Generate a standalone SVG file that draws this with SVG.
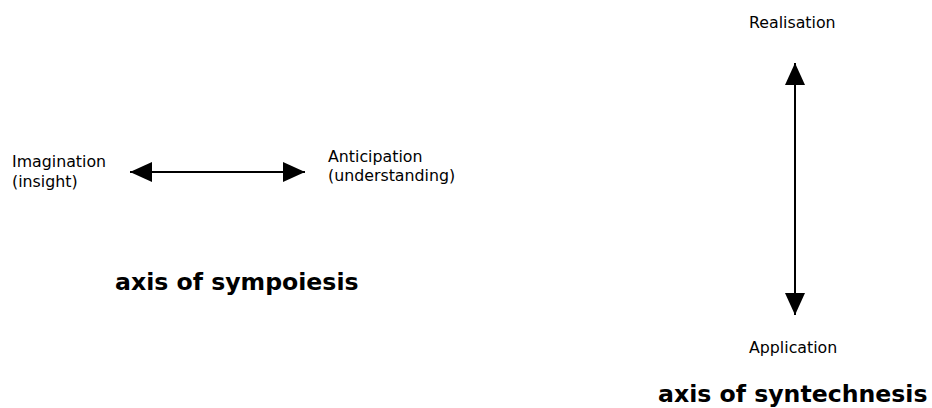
<svg xmlns="http://www.w3.org/2000/svg" width="932" height="408" viewBox="0 0 932 408">
<style>
.lbl{font-family:"DejaVu Sans",Verdana,sans-serif;font-size:15.8px;fill:#000}
.ttl{font-family:"DejaVu Sans",Verdana,sans-serif;font-size:23.6px;font-weight:bold;fill:#000}
.ln{stroke:#000;stroke-width:2;fill:none}
</style>
<defs>
<marker id="ah" viewBox="0 0 22 20" refX="22" refY="10" markerWidth="22" markerHeight="20" markerUnits="userSpaceOnUse" orient="auto-start-reverse">
<path d="M0,0 L22,10 L0,20 Z" fill="#000"/>
</marker>
</defs>
<rect width="932" height="408" fill="#fff"/>
<g id="imagination"><text class="lbl" x="12" y="167">Imagination</text><text class="lbl" x="12" y="187">(insight)</text></g>
<g id="anticipation"><text class="lbl" x="328" y="162">Anticipation</text><text class="lbl" x="328" y="181">(understanding)</text></g>
<g id="realisation"><text class="lbl" x="749" y="28">Realisation</text></g>
<g id="application"><text class="lbl" x="749" y="353">Application</text></g>
<g id="title-sympoiesis"><text class="ttl" x="115" y="290">axis of sympoiesis</text></g>
<g id="title-syntechnesis"><text class="ttl" x="658" y="402">axis of syntechnesis</text></g>
<g id="connectors">
<line class="ln" x1="130" y1="172" x2="305" y2="172" marker-start="url(#ah)" marker-end="url(#ah)"/>
<line class="ln" x1="795" y1="63" x2="795" y2="315" marker-start="url(#ah)" marker-end="url(#ah)"/>
</g>
</svg>
